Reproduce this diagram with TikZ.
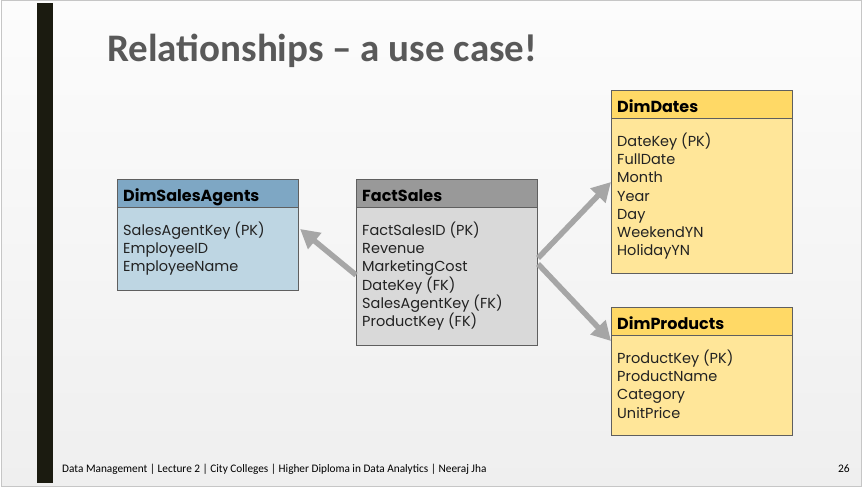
\documentclass[tikz,border=0pt]{standalone}
\usepackage{fontspec}
\setmainfont{Poppins}
\newfontfamily\titlefont{Carlito}
\usetikzlibrary{arrows.meta,calc}
\definecolor{agenthead}{HTML}{7EA7C4}
\definecolor{agentbody}{HTML}{BED6E3}
\definecolor{facthead}{HTML}{999999}
\definecolor{factbody}{HTML}{D9D9D9}
\definecolor{dimhead}{HTML}{FFD966}
\definecolor{dimbody}{HTML}{FFE699}
\definecolor{boxline}{HTML}{5F5F5F}
\definecolor{arrowgray}{HTML}{A6A6A6}
\definecolor{titlegray}{HTML}{595959}
\definecolor{barblack}{HTML}{1B1B10}
\definecolor{slidetop}{HTML}{FCFCFC}
\definecolor{slidebot}{HTML}{EFEFEF}
\definecolor{framegray}{HTML}{C6C6C6}
\definecolor{textdark}{HTML}{222222}
\tikzset{
  x=1pt,y=-1pt,
  tablebox/.style={draw=boxline,line width=1.1pt,rectangle,inner sep=0pt,anchor=north west,minimum width=181pt},
  headtext/.style={anchor=base west,inner sep=0pt,font=\fontsize{16}{18}\selectfont\bfseries,text=black},
  bodytext/.style={anchor=base west,inner sep=0pt,font=\fontsize{14.5}{16}\selectfont,text=textdark},
  relarrow/.style={draw=arrowgray,line width=5.5pt,-{Triangle[length=19pt,width=20pt]}},
}
\begin{document}
\begin{tikzpicture}
\useasboundingbox (0,0) rectangle (862,487);
% slide background
\shade[top color=slidetop,bottom color=slidebot] (1,1) rectangle (861,486);
\draw[framegray,line width=1pt] (1,1) rectangle (861,486);
\fill[barblack] (37,3) rectangle (53,483);
% title
\node[anchor=base west,inner sep=0pt,text=titlegray,font=\titlefont\fontsize{39}{44}\selectfont\bfseries] (title) at (107,62) {Relationships – a use case!};
% DimSalesAgents
\node[tablebox,fill=agentbody,minimum height=111pt] (agents) at (117,179) {};
\node[tablebox,fill=agenthead,minimum height=28pt] (agentsh) at (117,179) {};
\node[headtext] (agentst) at (123,201.5) {DimSalesAgents};
\node[bodytext] (a1) at (123,235.5) {SalesAgentKey (PK)};
\node[bodytext] (a2) at (123,253.7) {EmployeeID};
\node[bodytext] (a3) at (123,271.9) {EmployeeName};
% FactSales
\node[tablebox,fill=factbody,minimum height=166pt] (fact) at (356,179) {};
\node[tablebox,fill=facthead,minimum height=28pt] (facth) at (356,179) {};
\node[headtext] (factt) at (362,201.5) {FactSales};
\node[bodytext] (f1) at (362,235.5) {FactSalesID (PK)};
\node[bodytext] (f2) at (362,253.7) {Revenue};
\node[bodytext] (f3) at (362,271.9) {MarketingCost};
\node[bodytext] (f4) at (362,290.1) {DateKey (FK)};
\node[bodytext] (f5) at (362,308.3) {SalesAgentKey (FK)};
\node[bodytext] (f6) at (362,326.5) {ProductKey (FK)};
% DimDates
\node[tablebox,fill=dimbody,minimum height=183pt] (dates) at (611,90) {};
\node[tablebox,fill=dimhead,minimum height=28pt] (datesh) at (611,90) {};
\node[headtext] (datest) at (617,112.5) {DimDates};
\node[bodytext] (d1) at (617,146.5) {DateKey (PK)};
\node[bodytext] (d2) at (617,164.7) {FullDate};
\node[bodytext] (d3) at (617,182.9) {Month};
\node[bodytext] (d4) at (617,201.1) {Year};
\node[bodytext] (d5) at (617,219.3) {Day};
\node[bodytext] (d6) at (617,237.5) {WeekendYN};
\node[bodytext] (d7) at (617,255.7) {HolidayYN};
% DimProducts
\node[tablebox,fill=dimbody,minimum height=128pt] (prods) at (611,307) {};
\node[tablebox,fill=dimhead,minimum height=28pt] (prodsh) at (611,307) {};
\node[headtext] (prodst) at (617,329.5) {DimProducts};
\node[bodytext] (p1) at (617,363.5) {ProductKey (PK)};
\node[bodytext] (p2) at (617,381.7) {ProductName};
\node[bodytext] (p3) at (617,399.9) {Category};
\node[bodytext] (p4) at (617,418.1) {UnitPrice};
% connectors
\coordinate (factL) at ($(fact.north west)+(0,96)$);
\coordinate (factR1) at ($(fact.north east)+(0,79)$);
\coordinate (factR2) at ($(fact.north east)+(0,85)$);
\coordinate (agentsR) at ($(agents.north east)+(1,50)$);
\coordinate (datesL) at ($(dates.north west)+(0,92)$);
\coordinate (prodsL) at ($(prods.north west)+(0,34)$);
\draw[relarrow] (factL) -- (agentsR);
\draw[relarrow] (factR1) -- (datesL);
\draw[relarrow] (factR2) -- (prodsL);
% footer
\node[anchor=base west,inner sep=0pt,text=black,font=\titlefont\fontsize{11.5}{13}\selectfont] (footer) at (62,472) {\scalebox{0.98}[1]{Data Management | Lecture 2 | City Colleges | Higher Diploma in Data Analytics | Neeraj Jha}};
\node[anchor=base east,inner sep=0pt,text=black,font=\titlefont\fontsize{11.5}{13}\selectfont] (pagenum) at (850,472) {26};
\end{tikzpicture}
\end{document}
